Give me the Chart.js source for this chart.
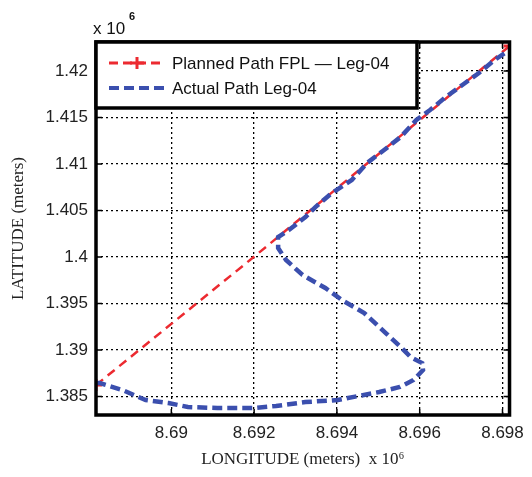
<!DOCTYPE html>
<html>
  <head>
    <title>Leg-04 path</title>
    <meta charset="UTF-8">
    <style>
      body { margin: 0; background: #fff; }
      .canvas { width: 532px; height: 477px; position: relative; }
    </style>
  </head>
  <body>
    <div class="canvas">
      <canvas id="canvas"></canvas>
    </div>
    <script src="https://cdn.jsdelivr.net/npm/chart.js@4.4.0/dist/chart.umd.min.js"></script>
    <script>
    // planned path (straight line, units of 10^6 m)
    var plannedLon = [8.68818, 8.69199, 8.69817];
    var plannedLat = [1.38624, 1.40000, 1.42268];

    // actual flown path
    var actualLon = [8.68818, 8.68827, 8.68882, 8.68938, 8.68993, 8.69040, 8.69111, 8.69199, 8.69253,
                     8.69324, 8.69402, 8.69502, 8.69552, 8.69585, 8.69608, 8.69606, 8.69578, 8.69554,
                     8.69518, 8.69466, 8.69412, 8.69372, 8.69317, 8.69277, 8.69258, 8.69258, 8.69284,
                     8.69324, 8.69348, 8.69388, 8.69436, 8.69473, 8.69514, 8.69554, 8.69592, 8.69625,
                     8.69663, 8.69703, 8.69743, 8.69781, 8.69817];
    var actualLat = [1.38645, 1.38646, 1.38570, 1.38463, 1.38431, 1.38388, 1.38377, 1.38377, 1.38399,
                     1.38441, 1.38463, 1.38549, 1.38603, 1.38678, 1.38785, 1.38860, 1.38925, 1.39033,
                     1.39183, 1.39398, 1.39538, 1.39667, 1.39807, 1.39968, 1.40097, 1.40215, 1.40290,
                     1.40430, 1.40537, 1.40688, 1.40828, 1.41011, 1.41150, 1.41290, 1.41473, 1.41580,
                     1.41720, 1.41849, 1.41978, 1.42118, 1.42225];

    var xTicks = [8.69, 8.692, 8.694, 8.696, 8.698];
    var xTickLabels = ['8.69', '8.692', '8.694', '8.696', '8.698'];
    var yTicks = [1.385, 1.39, 1.395, 1.4, 1.405, 1.41, 1.415, 1.42];
    var yTickLabels = ['1.385', '1.39', '1.395', '1.4', '1.405', '1.41', '1.415', '1.42'];

    var legendLabels = ['Planned Path FPL \u2014 Leg-04', 'Actual Path Leg-04'];

    var RED = '#ec2a30';
    var BLUE = '#3b4fae';

    function toPoints(xs, ys) {
        return xs.map(function(x, i) { return {x: x, y: ys[i]}; });
    }

    // frame, inward ticks, legend box and the "x 10^6" exponent
    var framePlugin = {
        id: 'frame',
        afterDraw: function(chart) {
            var ctx = chart.ctx;
            var a = chart.chartArea;
            var xs = chart.scales.x, ys = chart.scales.y;
            ctx.save();
            ctx.strokeStyle = '#000';
            ctx.setLineDash([]);
            ctx.lineWidth = 1.5;
            xTicks.forEach(function(v) {
                var px = xs.getPixelForValue(v);
                ctx.beginPath();
                ctx.moveTo(px, a.bottom); ctx.lineTo(px, a.bottom - 6);
                ctx.moveTo(px, a.top); ctx.lineTo(px, a.top + 6);
                ctx.stroke();
            });
            yTicks.forEach(function(v) {
                var py = ys.getPixelForValue(v);
                ctx.beginPath();
                ctx.moveTo(a.left, py); ctx.lineTo(a.left + 6, py);
                ctx.moveTo(a.right, py); ctx.lineTo(a.right - 6, py);
                ctx.stroke();
            });
            ctx.lineWidth = 3.5;
            ctx.strokeRect(a.left, a.top, a.right - a.left, a.bottom - a.top);

            // legend
            var lx = a.left, ly = a.top, lw = 321, lh = 66;
            ctx.fillStyle = '#fff';
            ctx.fillRect(lx, ly, lw, lh);
            ctx.lineWidth = 3.5;
            ctx.strokeRect(lx, ly, lw, lh);
            var rows = [ly + 21, ly + 46];
            var colors = [RED, BLUE];
            ctx.lineCap = 'butt';
            for (var i = 0; i < 2; i++) {
                ctx.strokeStyle = colors[i];
                ctx.lineWidth = i === 0 ? 3 : 4;
                ctx.setLineDash(i === 0 ? [9, 5] : [10, 5]);
                ctx.beginPath();
                ctx.moveTo(lx + 13, rows[i]);
                ctx.lineTo(lx + 68, rows[i]);
                ctx.stroke();
                ctx.setLineDash([]);
                ctx.font = '17px "Liberation Sans", Arial, sans-serif';
                ctx.fillStyle = '#111';
                ctx.textBaseline = 'middle';
                ctx.textAlign = 'left';
                ctx.fillText(legendLabels[i], lx + 76, rows[i] + 1);
            }
            // plus marker on the planned line sample
            ctx.strokeStyle = RED;
            ctx.lineWidth = 3;
            ctx.beginPath();
            ctx.moveTo(lx + 34, rows[0]); ctx.lineTo(lx + 48, rows[0]);
            ctx.moveTo(lx + 41, rows[0] - 6); ctx.lineTo(lx + 41, rows[0] + 6);
            ctx.stroke();

            // exponent label above the y axis
            ctx.fillStyle = '#111';
            ctx.textBaseline = 'alphabetic';
            ctx.font = '17px "Liberation Sans", Arial, sans-serif';
            ctx.fillText('x 10', a.left - 3, a.top - 8);
            ctx.font = 'bold 11px "Liberation Sans", Arial, sans-serif';
            ctx.fillText('6', a.left + 33, a.top - 22);
            ctx.restore();
        }
    };

    var tickFont = {family: '"Liberation Sans", Arial, sans-serif', size: 17};
    var titleFont = {family: '"Liberation Serif", "Times New Roman", serif', size: 17};

    var ctx = document.getElementById('canvas').getContext('2d');
    var chart = new Chart(ctx, {
        type: 'scatter',
        data: {
            datasets: [
                {
                    label: legendLabels[1],
                    data: toPoints(actualLon, actualLat),
                    showLine: true,
                    borderColor: BLUE,
                    backgroundColor: BLUE,
                    borderWidth: 4.5,
                    borderDash: [10, 5],
                    pointRadius: 0,
                    order: 0
                },
                {
                    label: legendLabels[0],
                    data: toPoints(plannedLon, plannedLat),
                    showLine: true,
                    borderColor: RED,
                    backgroundColor: RED,
                    borderWidth: 2.5,
                    borderDash: [9, 6],
                    pointStyle: 'cross',
                    pointRadius: [6, 0, 6],
                    pointBorderWidth: 3,
                    order: 1
                }
            ]
        },
        options: {
            responsive: true,
            maintainAspectRatio: false,
            animation: false,
            layout: {padding: {top: 42, right: 14, left: 0, bottom: 0}},
            plugins: {
                legend: {display: false},
                tooltip: {enabled: false}
            },
            scales: {
                x: {
                    type: 'linear',
                    min: 8.68818,
                    max: 8.69817,
                    afterBuildTicks: function(scale) {
                        scale.ticks = xTicks.map(function(v) { return {value: v}; });
                    },
                    afterFit: function(scale) { scale.height = 62; },
                    ticks: {
                        font: tickFont,
                        color: '#222',
                        padding: 8,
                        maxRotation: 0,
                        callback: function(v) { return xTickLabels[xTicks.indexOf(v)]; }
                    },
                    grid: {color: '#000', lineWidth: 1.3, drawTicks: false},
                    border: {display: false, dash: [2, 3]},
                    title: {
                        display: true,
                        text: 'LONGITUDE (meters)  x 10\u2076',
                        font: titleFont,
                        color: '#222',
                        padding: {top: 0, bottom: 7}
                    }
                },
                y: {
                    type: 'linear',
                    min: 1.38302,
                    max: 1.42311,
                    afterBuildTicks: function(scale) {
                        scale.ticks = yTicks.map(function(v) { return {value: v}; });
                    },
                    afterFit: function(scale) { scale.width = 96; },
                    ticks: {
                        font: tickFont,
                        color: '#222',
                        padding: 8,
                        callback: function(v) { return yTickLabels[yTicks.indexOf(v)]; }
                    },
                    grid: {color: '#000', lineWidth: 1.3, drawTicks: false},
                    border: {display: false, dash: [2, 3]},
                    title: {
                        display: true,
                        text: 'LATITUDE (meters)',
                        font: titleFont,
                        color: '#222',
                        padding: {top: 8, bottom: 0}
                    }
                }
            }
        },
        plugins: [framePlugin]
    });
    </script>
  </body>
</html>
